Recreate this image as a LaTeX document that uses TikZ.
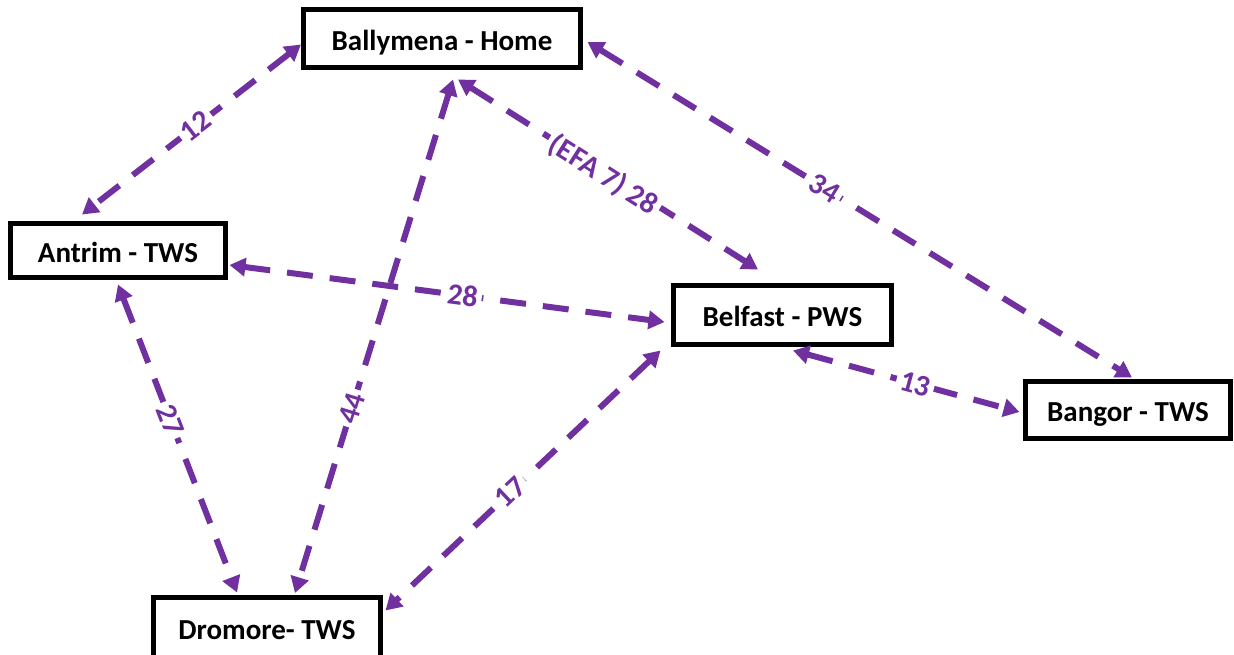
\documentclass[tikz,border=0pt]{standalone}
\usepackage{fontspec}
\setmainfont{Carlito}
\usetikzlibrary{arrows.meta,calc}
\definecolor{linkpurple}{RGB}{112,48,160}
\begin{document}
\begin{tikzpicture}[x=1pt,y=-1pt,
  place/.style={draw=black, line width=5pt, fill=white, inner sep=0pt,
    text height=23pt, text depth=0pt,
    font=\fontsize{29}{34}\bfseries\selectfont, text=black},
  link/.style={draw=linkpurple, line width=6pt, dash pattern=on 26pt off 17pt,
    {Triangle[length=16pt,width=18pt]}-{Triangle[length=16pt,width=18pt]}},
  dist/.style={sloped, fill=white, inner sep=4pt, text=linkpurple,
    font=\fontsize{30}{34}\bfseries\selectfont}]
\useasboundingbox (0,0) rectangle (1234,654);

% sites
\node[place, minimum width=277pt, minimum height=58pt] (ball)    at (442,38.5)   {Ballymena - Home};
\node[place, minimum width=215pt, minimum height=54pt] (antrim)  at (118,250.5)  {Antrim - TWS};
\node[place, minimum width=218pt, minimum height=59pt] (belfast) at (782.5,315)  {Belfast - PWS};
\node[place, minimum width=205pt, minimum height=57pt] (bangor)  at (1128,410)   {Bangor - TWS};
\node[place, minimum width=227pt, minimum height=60pt] (dromore) at (267,627.5)  {Dromore- TWS};

% distances between sites
\draw[link] ($(ball.west)+(0,6)$) -- node[dist,pos=0.48]{12} ($(antrim.north)+(-36,-6.5)$);
\draw[link] ($(ball.south)+(11,9.5)$) -- node[dist,pos=0.64]{44} ($(dromore.north)+(28,-2)$);
\draw[link] ($(ball.south)+(16,9.5)$) -- node[dist,pos=0.49,yshift=-3pt]{(EFA 7) 28} ($(belfast.north)+(-24.5,-13.5)$);
\draw[link] ($(ball.east)+(4.5,3.5)$) -- node[dist,pos=0.435]{34} ($(bangor.north)+(4,-1.5)$);
\draw[link] ($(antrim.east)+(1.5,14.5)$) -- node[dist,pos=0.536]{28} ($(belfast.west)+(-6.5,7)$);
\draw[link] ($(antrim.south)+(0,4.5)$) -- node[dist,pos=0.44]{27} ($(dromore.north)+(-30,-2.5)$);
\draw[link] ($(belfast.south west)+(-10.5,3.5)$) -- node[dist,pos=0.546]{17} ($(dromore.north east)+(2.5,15.5)$);
\draw[link] ($(belfast.south)+(10.5,3.5)$) -- node[dist,pos=0.54]{13} ($(bangor.west)+(-3.5,2)$);
\end{tikzpicture}
\end{document}
